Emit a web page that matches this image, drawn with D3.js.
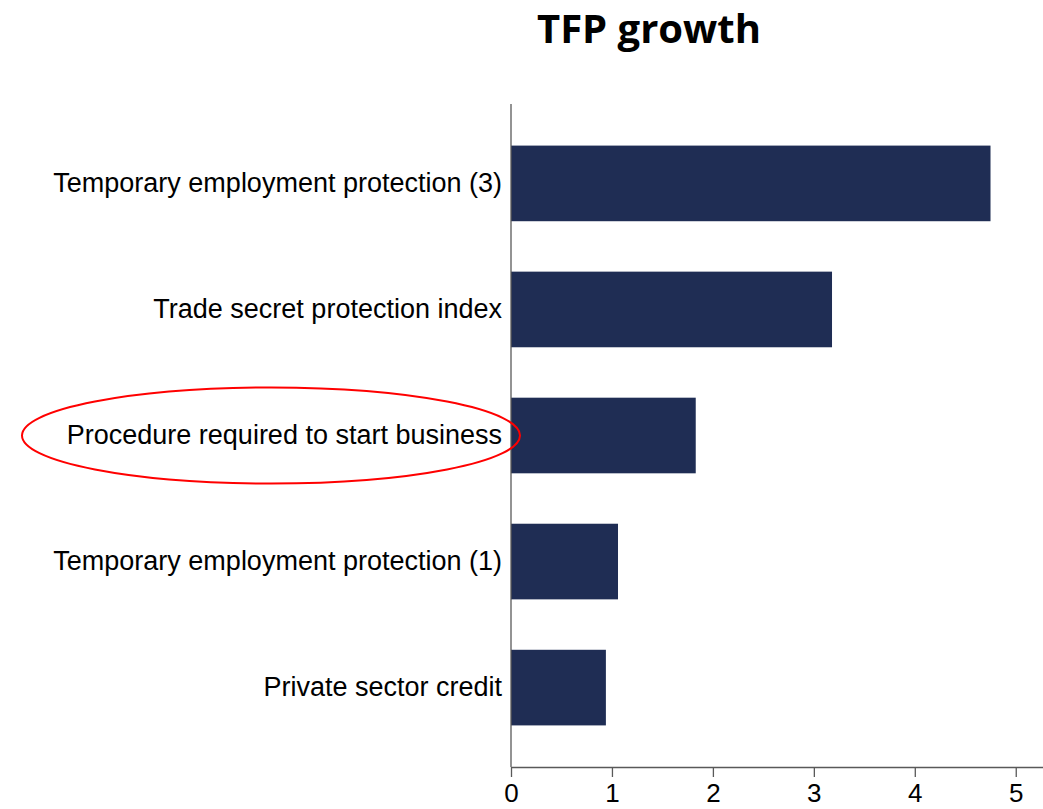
<!DOCTYPE html>
<html>
<head>
<meta charset="utf-8">
<script src="https://cdn.jsdelivr.net/npm/d3@7"></script>
<style>
  body { margin: 0; background: #fff; }
  .axis path, .axis line { stroke: #595959; stroke-width: 1.3; }
  .axis text { font-family: "Liberation Sans", Arial, sans-serif; font-size: 27px; fill: #000; }
  .axis.x text { font-size: 26px; }
</style>
</head>
<body>
<div id="chart"></div>
<script>
var categories = ["Temporary employment protection (3)", "Trade secret protection index",
    "Procedure required to start business", "Temporary employment protection (1)", "Private sector credit"]
var values = [4.75, 3.18, 1.83, 1.06, 0.94]
var xTicks = [0, 1, 2, 3, 4, 5]
var highlighted = "Procedure required to start business"

var width = 1043, height = 809
var margin = { left: 511, right: 0, top: 104, bottom: 42 }

var svg = d3.select("#chart")
    .append("svg")
        .attr("width", width)
        .attr("height", height)

var x = d3.scaleLinear()
    .domain([0, 5.27])
    .range([margin.left, width - margin.right])

var y = d3.scaleBand()
    .domain(categories)
    .range([margin.top, height - margin.bottom])
    .paddingInner(0.4)
    .paddingOuter(0.33)

// title
svg.append("text")
    .attr("x", 649)
    .attr("y", 43)
    .attr("text-anchor", "middle")
    .attr("font-family", "'Open Sans', sans-serif")
    .attr("font-weight", "bold")
    .attr("font-size", "40px")
    .attr("fill", "#000")
    .text("TFP growth")

// bars
svg.selectAll(".bar")
    .data(values)
    .enter()
    .append("rect")
        .attr("class", "bar")
        .attr("x", x(0))
        .attr("y", function(d, i){ return y(categories[i]); })
        .attr("width", function(d){ return x(d) - x(0); })
        .attr("height", y.bandwidth())
        .attr("fill", "#1f2d54")

// x axis
var xAxis = d3.axisBottom(x).tickValues(xTicks).tickFormat(d3.format("d"))
    .tickSize(10).tickPadding(7).tickSizeOuter(0)
svg.append("g")
    .attr("class", "axis x")
    .attr("transform", "translate(0," + (height - margin.bottom) + ")")
    .call(xAxis)

// y axis
var yAxis = d3.axisLeft(y).tickSize(0).tickPadding(9).tickSizeOuter(0)
var yG = svg.append("g")
    .attr("class", "axis")
    .attr("transform", "translate(" + margin.left + ",0)")
    .call(yAxis)
yG.select(".domain").attr("d", "M0," + margin.top + "V" + (height - margin.bottom))

// highlight ellipse
svg.append("ellipse")
    .attr("cx", 271)
    .attr("cy", y(highlighted) + y.bandwidth() / 2)
    .attr("rx", 249)
    .attr("ry", 48)
    .attr("fill", "none")
    .attr("stroke", "#ff0000")
    .attr("stroke-width", 2)
</script>
</body>
</html>
